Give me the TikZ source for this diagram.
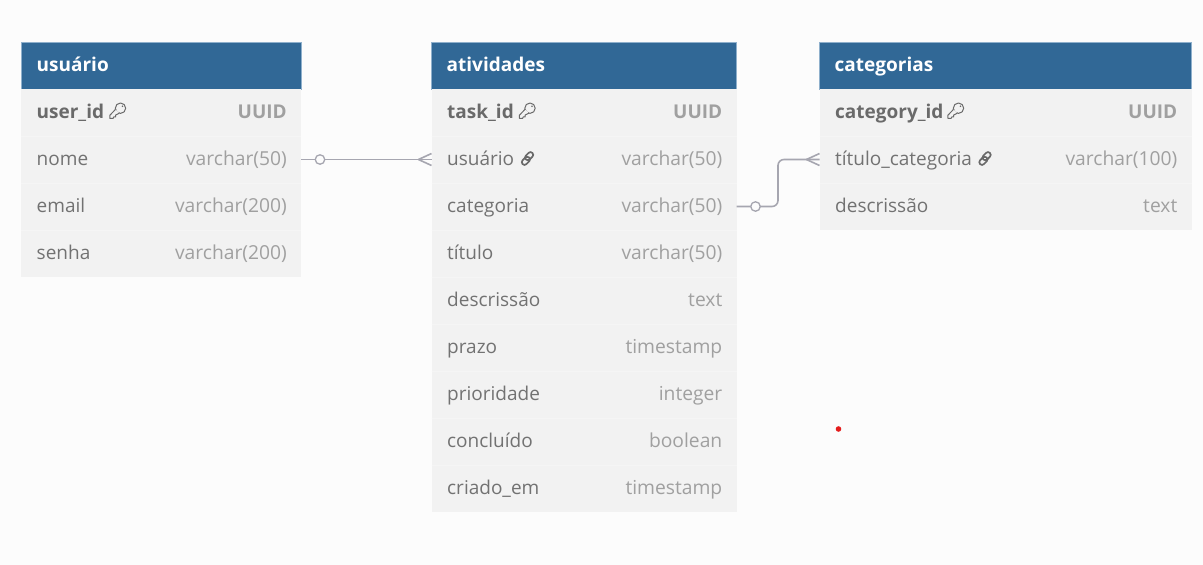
\documentclass[tikz,border=0pt]{standalone}
\usepackage{fontspec}
\setmainfont{Open Sans}
\definecolor{bgc}{HTML}{FCFCFC}
\definecolor{headc}{HTML}{316896}
\definecolor{headl}{HTML}{8FB0CC}
\definecolor{rowc}{HTML}{F2F2F2}
\definecolor{rowl}{HTML}{F5F5F5}
\definecolor{namec}{HTML}{727272}
\definecolor{typec}{HTML}{A0A0A0}
\definecolor{pkc}{HTML}{6A6A6A}
\definecolor{linkc}{HTML}{A6A6B0}
\definecolor{dotc}{HTML}{E41C1C}
\tikzset{
 x=1pt,y=-1pt,
 headbox/.style={fill=headc,draw=headl,line width=.5pt,inner sep=0pt,outer sep=0pt,anchor=north west,minimum height=47pt},
 rowbox/.style={fill=rowc,inner sep=0pt,outer sep=0pt,anchor=north west,minimum height=47pt},
 headtxt/.style={font=\fontsize{19}{22}\selectfont\bfseries,text=white,anchor=base west,inner sep=0pt},
 nametxt/.style={font=\fontsize{19}{22}\selectfont,text=namec,anchor=base west,inner sep=0pt},
 typetxt/.style={font=\fontsize{19.25}{22}\selectfont,text=typec,anchor=base east,inner sep=0pt},
 pktxt/.style={font=\fontsize{19}{22}\selectfont\bfseries,text=pkc,anchor=base west,inner sep=0pt},
 pktype/.style={font=\fontsize{19}{22}\selectfont\bfseries,text=typec,anchor=base east,inner sep=0pt},
 conn/.style={draw=linkc,line width=1.6pt,line join=round},
 ringc/.style={circle,draw=linkc,line width=1.3pt,fill=bgc,minimum size=9.5pt,inner sep=0pt},
 sep/.style={draw=rowl,line width=1pt},
 keyic/.style={draw=pkc,line width=1pt,line join=round},
 linkic/.style={draw=pkc,line width=1.7pt},
}
% \tabrow{id}{x}{top y}{width}{name}{type}{name style}{type style}
\newcommand{\tabrow}[8]{%
 \node[rowbox,minimum width=#4pt] (#1) at (#2,#3) {};
 \node[#7] (#1n) at (#2+15.5,#3+29.5) {#5};
 \node[#8] (#1t) at (#2+#4-14,#3+29.5) {#6};
}
% key icon, positioned by the centre of its head
\newcommand{\keyicon}[2]{%
 \begin{scope}[shift={(#1,#2)}]
  \draw[keyic] (0,0) circle (5.2);
  \fill[rowc] (-5,1.2) -- (-10.6,7) -- (-10.6,10.2) -- (-7.4,10.2) -- (-6.6,8.6) -- (-4.8,8.6) -- (-4.8,6.8) -- (-1.2,5) -- cycle;
  \draw[keyic] (-5,1.2) -- (-10.6,7) -- (-10.6,10.2) -- (-7.4,10.2) -- (-6.6,8.6) -- (-4.8,8.6) -- (-4.8,6.8) -- (-1.2,5);
  \fill[pkc] (2,-2) circle (.9);
 \end{scope}}
% link icon, positioned by its centre
\newcommand{\linkicon}[2]{%
 \begin{scope}[shift={(#1,#2)},rotate=45]
  \draw[linkic,rounded corners=2.6pt] (-7.4,-2.2) rectangle (1.8,3.2);
  \draw[linkic,rounded corners=2.6pt] (-1.8,-3.2) rectangle (7.4,2.2);
 \end{scope}}
\begin{document}
\begin{tikzpicture}
\useasboundingbox (0,0) rectangle (1203,565);
\fill[bgc] (0,0) rectangle (1203,565);
% usuario
\node[headbox,minimum width=280pt] (uh) at (21,42) {};
\node[headtxt] (uhn) at (36.5,71) {usuário};
\tabrow{u1}{21}{89}{280}{user\_id}{UUID}{pktxt}{pktype}
\tabrow{u2}{21}{136}{280}{nome}{varchar(50)}{nametxt}{typetxt}
\tabrow{u3}{21}{183}{280}{email}{varchar(200)}{nametxt}{typetxt}
\tabrow{u4}{21}{230}{280}{senha}{varchar(200)}{nametxt}{typetxt}
% atividades
\node[headbox,minimum width=305pt] (ah) at (431.5,42) {};
\node[headtxt] (ahn) at (446.5,71) {atividades};
\tabrow{a1}{431.5}{89}{305}{task\_id}{UUID}{pktxt}{pktype}
\tabrow{a2}{431.5}{136}{305}{usuário}{varchar(50)}{nametxt}{typetxt}
\tabrow{a3}{431.5}{183}{305}{categoria}{varchar(50)}{nametxt}{typetxt}
\tabrow{a4}{431.5}{230}{305}{título}{varchar(50)}{nametxt}{typetxt}
\tabrow{a5}{431.5}{277}{305}{descrissão}{text}{nametxt}{typetxt}
\tabrow{a6}{431.5}{324}{305}{prazo}{timestamp}{nametxt}{typetxt}
\tabrow{a7}{431.5}{371}{305}{prioridade}{integer}{nametxt}{typetxt}
\tabrow{a8}{431.5}{418}{305}{concluído}{boolean}{nametxt}{typetxt}
\tabrow{a9}{431.5}{465}{305}{criado\_em}{timestamp}{nametxt}{typetxt}
% categorias
\node[headbox,minimum width=372pt] (ch) at (819.5,42) {};
\node[headtxt] (chn) at (834.5,71) {categorias};
\tabrow{c1}{819.5}{89}{372}{category\_id}{UUID}{pktxt}{pktype}
\tabrow{c2}{819.5}{136}{372}{título\_categoria}{varchar(100)}{nametxt}{typetxt}
\tabrow{c3}{819.5}{183}{372}{descrissão}{text}{nametxt}{typetxt}
% row separators
\foreach \a/\b in {u1/u2,u2/u3,u3/u4,a1/a2,a2/a3,a3/a4,a4/a5,a5/a6,a6/a7,a7/a8,a8/a9,c1/c2,c2/c3}{
 \draw[sep] (\a.south west) -- (\a.south east);
}
% icons
\keyicon{120.5}{108.2}
\keyicon{530}{108.2}
\keyicon{958.5}{108.2}
\linkicon{527.5}{158.5}
\linkicon{985}{158.5}
% connectors
\draw[conn] (u2.east) -- (a2.west);
\node[ringc] (r1) at ([xshift=19pt]u2.east) {};
\draw[conn] ([xshift=-13pt]a2.west) -- ([yshift=-6pt]a2.west);
\draw[conn] ([xshift=-13pt]a2.west) -- ([yshift=6pt]a2.west);
\draw[conn,rounded corners=6pt] (a3.east) -- (778,206.5) -- (778,159.5) -- (c2.west);
\node[ringc] (r2) at ([xshift=19pt]a3.east) {};
\draw[conn] ([xshift=-13pt]c2.west) -- ([yshift=-6pt]c2.west);
\draw[conn] ([xshift=-13pt]c2.west) -- ([yshift=6pt]c2.west);
% red dot
\fill[dotc] (838.5,429) circle (2.8);
\end{tikzpicture}
\end{document}
